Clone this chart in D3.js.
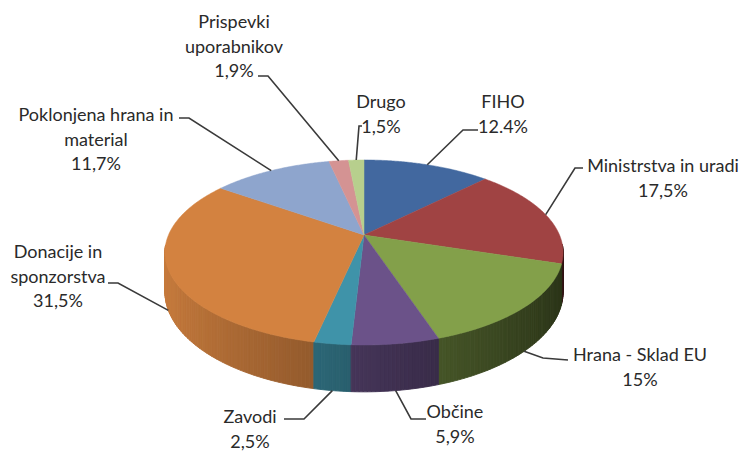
<!DOCTYPE html>
<html>
<head>
<meta charset="utf-8">
<script src="https://cdn.jsdelivr.net/npm/d3@7"></script>
<style>
  html, body { margin: 0; padding: 0; background: #ffffff; }
  svg { display: block; }
</style>
</head>
<body>
<svg id="chart" width="743" height="452"></svg>
<script>
// ---- data ----
const categories = ["FIHO", "Ministrstva in uradi", "Hrana - Sklad EU", "Občine", "Zavodi",
  "Donacije in sponzorstva", "Poklonjena hrana in material", "Prispevki uporabnikov", "Drugo"];
const values = [12.4, 17.5, 15, 5.9, 2.5, 31.5, 11.7, 1.9, 1.5];
const valueLabels = ["12.4%", "17,5%", "15%", "5,9%", "2,5%", "31,5%", "11,7%", "1,9%", "1,5%"];
const labelLines = [
  ["FIHO"], ["Ministrstva in uradi"], ["Hrana - Sklad EU"], ["Občine"], ["Zavodi"],
  ["Donacije in", "sponzorstva"], ["Poklonjena hrana in", "material"], ["Prispevki", "uporabnikov"], ["Drugo"]
];
const colors = ["#42689f", "#a04343", "#83a04a", "#6b5289", "#3f93a9", "#d38240", "#8ea5cd", "#d49393", "#b7cf8d"];

// ---- layout (label placement: text center x, first baseline y, elbow, line end) ----
const labelLayout = [
  { tx: 503, ty: 108, elbow: [463, 130], end: [478, 130] },
  { tx: 663, ty: 172, elbow: [575, 168], end: [583, 168] },
  { tx: 640, ty: 361, elbow: [543, 358], end: [568, 360] },
  { tx: 455, ty: 418, elbow: [411, 419], end: [426, 419] },
  { tx: 250, ty: 423, elbow: [304, 419], end: [284, 419] },
  { tx: 58,  ty: 258, elbow: [118, 283], end: [108, 283] },
  { tx: 96,  ty: 121, elbow: [189, 118], end: [179, 118] },
  { tx: 234, ty: 28,  elbow: [268, 76],  end: [258, 76] },
  { tx: 381, ty: 108, elbow: [359, 126], end: [362, 126] }
];
const lineHeight = 24.5;

const svg = d3.select("#chart");

// ---- 3D pie projection ----
const cx = 364, cy = 235;      // apex (projected circle center)
const Rx = 195.5, Ry = 89.2;   // projected radii
const k = 0.189;               // perspective factor
const D = 38;                  // thickness

function proj(theta, bottom) {
  // theta: clockwise from 12 o'clock (radians)
  const u = Math.sin(theta), v = -Math.cos(theta);
  const d = 1 - k * v;
  return [cx + Rx * u / d, cy + Ry * v / d + (bottom ? D / d : 0)];
}

const pie = d3.pie().sort(null).value(d => d)
  .startAngle(0).endAngle(2 * Math.PI);
const arcs = pie(values);

const line = d3.line();

// sides: small segments, painter's order
const sideSegs = [];
arcs.forEach((a, i) => {
  const step = Math.PI / 180;
  const n = Math.max(1, Math.ceil((a.endAngle - a.startAngle) / step));
  for (let j = 0; j < n; j++) {
    const t0 = a.startAngle + (a.endAngle - a.startAngle) * j / n;
    const t1 = a.startAngle + (a.endAngle - a.startAngle) * (j + 1) / n;
    const tm = (t0 + t1) / 2;
    const v = -Math.cos(tm);
    if (v < 0.1) continue;
    const u = Math.sin(tm);
    sideSegs.push({ i, t0, t1, v, u });
  }
});
sideSegs.sort((a, b) => a.v - b.v);

function sideColor(s) {
  const f = Math.max(0.3, Math.min(0.95, 0.63 - 0.32 * s.u));
  const c = d3.rgb(colors[s.i]);
  return d3.rgb(c.r * f, c.g * f, c.b * f).toString();
}

const gSide = svg.append("g");
gSide.selectAll("path").data(sideSegs).join("path")
  .attr("d", s => {
    const p0 = proj(s.t0, false), p1 = proj(s.t1, false);
    const p2 = proj(s.t1, true), p3 = proj(s.t0, true);
    return line([p0, p1, p2, p3]) + "Z";
  })
  .attr("fill", sideColor)
  .attr("stroke", sideColor)
  .attr("stroke-width", 0.9)
  .attr("stroke-linejoin", "round");

// top faces
function topPath(a) {
  const pts = [[cx, cy]];
  const n = Math.max(2, Math.ceil((a.endAngle - a.startAngle) / (Math.PI / 360)));
  for (let j = 0; j <= n; j++) {
    pts.push(proj(a.startAngle + (a.endAngle - a.startAngle) * j / n, false));
  }
  return line(pts) + "Z";
}
svg.append("g").selectAll("path").data(arcs).join("path")
  .attr("d", topPath)
  .attr("fill", (d, i) => colors[i])
  .attr("stroke", (d, i) => colors[i])
  .attr("stroke-width", 0.5);

// leader lines
function anchor(a) {
  const tm = (a.startAngle + a.endAngle) / 2;
  const v = -Math.cos(tm);
  return proj(tm, v > 0.2);
}
svg.append("g").selectAll("path").data(arcs).join("path")
  .attr("d", (a, i) => line([anchor(a), labelLayout[i].elbow, labelLayout[i].end]))
  .attr("fill", "none")
  .attr("stroke", "#3a3a3a")
  .attr("stroke-width", 1.6);

// labels
const gLab = svg.append("g")
  .attr("font-family", "Lato, 'Open Sans', sans-serif")
  .attr("font-size", 18)
  .attr("fill", "#2a2a2a")
  .attr("text-anchor", "middle");
arcs.forEach((a, i) => {
  const L = labelLayout[i];
  const lines = labelLines[i].concat([valueLabels[i]]);
  lines.forEach((t, j) => {
    gLab.append("text")
      .attr("x", L.tx)
      .attr("y", L.ty + j * lineHeight)
      .text(t);
  });
});
</script>
</body>
</html>
